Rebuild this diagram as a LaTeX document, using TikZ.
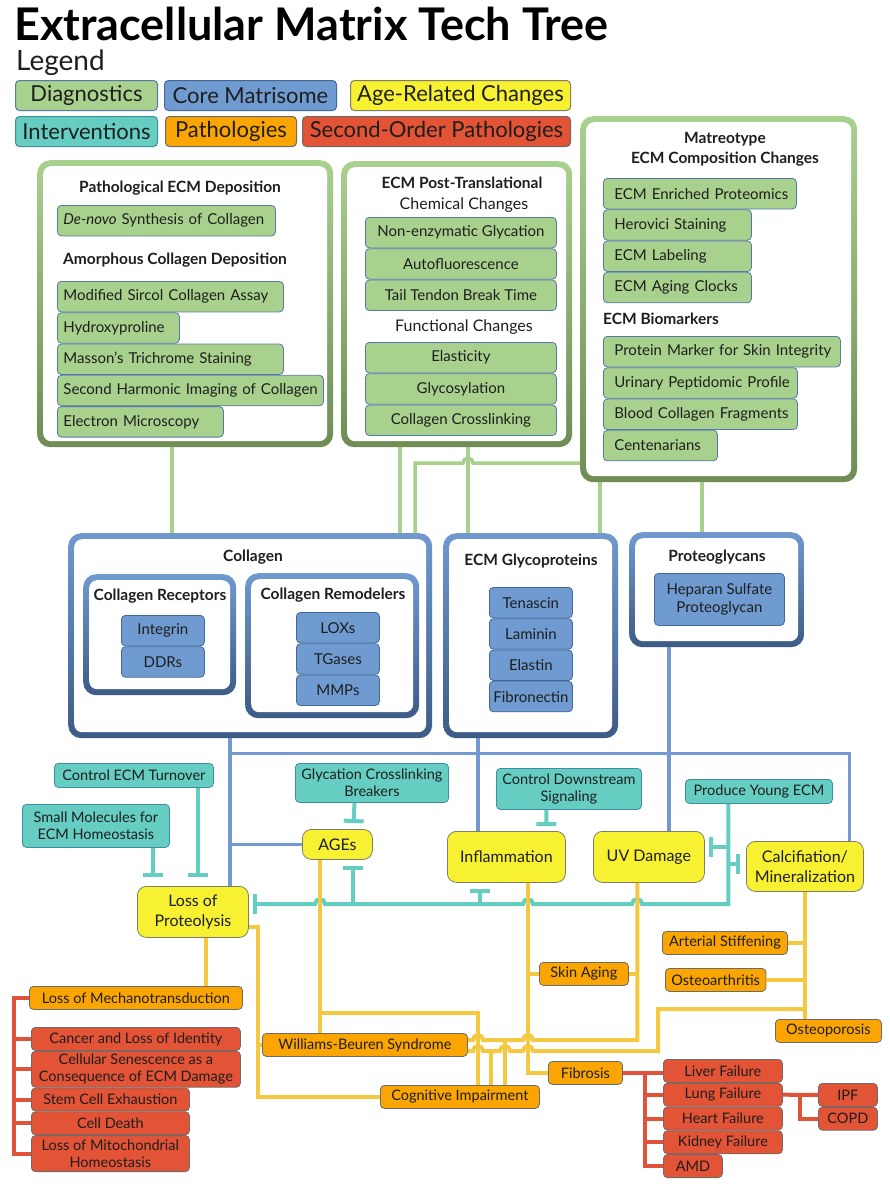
\documentclass[tikz,border=0pt]{standalone}
\usepackage{fontspec}
\setmainfont{Lato}
\usetikzlibrary{arrows.meta, positioning, calc}

\definecolor{diagfill}{HTML}{A9D18E}
\definecolor{diagline}{HTML}{5579A8}
\definecolor{corefill}{HTML}{6F9BD1}
\definecolor{coreline}{HTML}{44679A}
\definecolor{agefill}{HTML}{F7F132}
\definecolor{ageline}{HTML}{7E7E66}
\definecolor{intfill}{HTML}{66CDC3}
\definecolor{intline}{HTML}{3F8DA3}
\definecolor{patfill}{HTML}{FBA503}
\definecolor{patline}{HTML}{6B6B6B}
\definecolor{secfill}{HTML}{E35336}
\definecolor{grntop}{HTML}{A9D18E}
\definecolor{grnbot}{HTML}{6F8C55}
\definecolor{blutop}{HTML}{7099D0}
\definecolor{blubot}{HTML}{3C5C86}
\definecolor{lgreen}{HTML}{A9D18E}
\definecolor{lblue}{HTML}{7399D0}
\definecolor{lteal}{HTML}{66CDC3}
\definecolor{lyellow}{HTML}{F5C842}
\definecolor{lred}{HTML}{E0533A}
\definecolor{ink}{HTML}{1E1E1E}

\newcommand{\boxfont}{\fontsize{15}{18}\selectfont}
\newcommand{\smallfont}{\fontsize{14.5}{17}\selectfont}
\newcommand{\headfont}{\fontsize{15.5}{20}\selectfont\bfseries}

\tikzset{
node distance=0pt,
text=ink,
tag/.style={rectangle, rounded corners=4pt, line width=0.8pt, inner xsep=6pt, inner ysep=0pt, align=center},
lw/.style={text width=#1, align=left, execute at begin node=\hbox\bgroup, execute at end node=\egroup},
diag/.style={tag, draw=diagline, fill=diagfill, minimum height=30.5pt, font=\boxfont},
diagm/.style={diag, inner xsep=11pt},
core/.style={tag, inner xsep=3pt, draw=coreline, fill=corefill, minimum height=30.5pt, font=\boxfont},
interv/.style={tag, draw=intline, fill=intfill, minimum height=24pt, font=\smallfont},
agechg/.style={tag, rounded corners=9pt, draw=ageline, fill=agefill, minimum height=30pt, font=\fontsize{16}{20}\selectfont},
patho/.style={tag, draw=patline, fill=patfill, minimum height=23pt, font=\smallfont},
second/.style={tag, draw=patline, fill=secfill, minimum height=23pt, font=\smallfont},
legend/.style={tag, line width=1pt, minimum height=30pt, font=\fontsize{22}{24}\selectfont},
head/.style={font=\headfont, align=center, inner sep=0pt},
subhead/.style={font=\fontsize{16}{19}\selectfont, inner sep=0pt},
group/.style 2 args={rectangle, rounded corners=13pt, inner sep=0pt, top color=#1, bottom color=#2,
    path picture={\fill[white, rounded corners=8pt]
        ([shift={(6pt,6pt)}]path picture bounding box.south west) rectangle
        ([shift={(-6pt,-6pt)}]path picture bounding box.north east);}},
diaggroup/.style={group={grntop}{grnbot}},
coregroup/.style={group={blutop}{blubot}},
wire/.style={line width=3.5pt},
gwire/.style={wire, draw=lgreen},
bwire/.style={wire, draw=lblue},
twire/.style={wire, line width=4pt, draw=lteal},
ywire/.style={wire, line width=4pt, draw=lyellow},
rwire/.style={wire, line width=4pt, draw=lred},
inhibit/.style={-{Bar[width=20pt]}, shorten >=#1},
}

\begin{document}
\begin{tikzpicture}[x=1pt, y=-1pt]
\fill[white] (0,0) rectangle (890,1200);
\useasboundingbox (0,0) rectangle (890,1200);

% title and legend
\node[anchor=base west, inner sep=0pt, text=black, font=\fontsize{45}{50}\selectfont\bfseries] (title) at (14,40) {Extracellular Matrix Tech Tree};
\node[anchor=base west, inner sep=0pt, font=\fontsize{28}{30}\selectfont] (legendlbl) at (16,70) {Legend};
\node[legend, draw=diagline, fill=diagfill, minimum width=142, anchor=north west] (lgdiag) at (15,80) {Diagnostics};
\node[legend, draw=coreline, fill=corefill, minimum width=172, anchor=north west] (lgcore) at (164,80) {Core Matrisome};
\node[legend, draw=ageline, fill=agefill, minimum width=220, anchor=north west] (lgage) at (350,80) {Age-Related Changes};
\node[legend, draw=intline, fill=intfill, minimum width=142, anchor=north west] (lgint) at (15,116) {Interventions};
\node[legend, draw=patline, fill=patfill, minimum width=131, anchor=north west] (lgpat) at (165,116) {Pathologies};
\node[legend, draw=patline, fill=secfill, minimum width=268, anchor=north west] (lgsec) at (302,116) {Second-Order Pathologies};

% diagnostics
\node[diaggroup, minimum width=296, minimum height=287, anchor=north west] (depos) at (37,160) {};
\node[head] (deposhead) at (180,188) {Pathological ECM Deposition};
\node[diag, lw=206, anchor=north west] (denovo) at (57,205) {\textit{De-novo} Synthesis of Collagen};
\node[head] (amorhead) at (175,260) {Amorphous Collagen Deposition};
\node[diag, lw=214, anchor=north west] (sircol) at (57,281) {Modified Sircol Collagen Assay};
\node[diag, lw=110, anchor=north west] (hydroxy) at (sircol.south west) {Hydroxyproline};
\node[diag, lw=214, anchor=north west] (masson) at (hydroxy.south west) {Masson's Trichrome Staining};
\node[diag, lw=254, anchor=north west] (shg) at (masson.south west) {Second Harmonic Imaging of Collagen};
\node[diag, lw=154, anchor=north west] (elmic) at (shg.south west) {Electron Microscopy};

\node[diaggroup, minimum width=231, minimum height=286, anchor=north west] (posttr) at (341,161) {};
\node[head] (postthead) at (462,183) {ECM Post-Translational};
\node[subhead] (chemhead) at (464,205) {Chemical Changes};
\node[diag, minimum width=191, anchor=north west] (nonenz) at (365,217) {Non-enzymatic Glycation};
\node[diag, minimum width=191, below=of nonenz] (autofl) {Autofluorescence};
\node[diag, minimum width=191, below=of autofl] (tendon) {Tail Tendon Break Time};
\node[subhead] (funchead) at (464,327) {Functional Changes};
\node[diag, minimum width=191, anchor=north west] (elastic) at (365,342) {Elasticity};
\node[diag, minimum width=191, below=of elastic] (glycosyl) {Glycosylation};
\node[diag, minimum width=191, below=of glycosyl] (crosslink) {Collagen Crosslinking};

\node[diaggroup, minimum width=277, minimum height=366, anchor=north west] (matreo) at (580,116) {};
\node[head] (matreohead) at (725,149) {Matreotype\\ECM Composition Changes};
\node[diagm, lw=171, anchor=north west] (proteomics) at (603,178) {ECM Enriched Proteomics};
\node[diagm, lw=126, anchor=north west] (herovici) at (proteomics.south west) {Herovici Staining};
\node[diagm, lw=126, anchor=north west] (labeling) at (herovici.south west) {ECM Labeling};
\node[diagm, lw=126, anchor=north west] (clocks) at (labeling.south west) {ECM Aging Clocks};
\node[head, anchor=west] (biomhead) at (603,319) {ECM Biomarkers};
\node[diagm, lw=215, anchor=north west] (skinint) at (603,336) {Protein Marker for Skin Integrity};
\node[diagm, lw=172, anchor=north west] (urinary) at (skinint.south west) {Urinary Peptidomic Profile};
\node[diagm, lw=172, anchor=north west] (bloodfrag) at (urinary.south west) {Blood Collagen Fragments};
\node[diagm, lw=92, anchor=north west] (centen) at (bloodfrag.south west) {Centenarians};

% core matrisome
\node[coregroup, minimum width=364, minimum height=205, anchor=north west] (collagen) at (68,533) {};
\node[head] (collhead) at (253,557) {Collagen};
\node[coregroup, minimum width=153, minimum height=121, anchor=north west] (receptors) at (83,574) {};
\node[head] (recephead) at (160,596) {Collagen Receptors};
\node[core, minimum width=83, anchor=north west] (integrin) at (121,615) {Integrin};
\node[core, minimum width=83, below=of integrin] (ddrs) {DDRs};
\node[coregroup, minimum width=174, minimum height=145, anchor=north west] (remodel) at (245,573) {};
\node[head] (remodhead) at (333,595) {Collagen Remodelers};
\node[core, minimum width=83, anchor=north west] (loxs) at (296,612) {LOXs};
\node[core, minimum width=83, below=of loxs] (tgases) {TGases};
\node[core, minimum width=83, below=of tgases] (mmps) {MMPs};

\node[coregroup, minimum width=175, minimum height=205, anchor=north west] (glycop) at (443,533) {};
\node[head] (glyhead) at (531,561) {ECM Glycoproteins};
\node[core, minimum width=83, anchor=north west] (tenascin) at (489,587) {Tenascin};
\node[core, minimum width=83, below=of tenascin] (laminin) {Laminin};
\node[core, minimum width=83, below=of laminin] (elastin) {Elastin};
\node[core, minimum width=83, below=of elastin] (fibronectin) {Fibronectin};

\node[coregroup, minimum width=175, minimum height=115, anchor=north west] (proteog) at (629,532) {};
\node[head] (proteohead) at (717,557) {Proteoglycans};
\node[core, minimum width=130, minimum height=52, anchor=north west] (heparan) at (654,573) {Heparan Sulfate\\Proteoglycan};

% interventions
\node[interv, minimum width=159, anchor=north west] (ctrlturn) at (54,763) {Control ECM Turnover};
\node[interv, minimum width=147, minimum height=43, anchor=north west] (smallmol) at (22,804) {Small Molecules for\\ECM Homeostasis};
\node[interv, minimum width=151, minimum height=39, anchor=north west] (glybreak) at (295,763) {Glycation Crosslinking\\Breakers};
\node[interv, minimum width=145, minimum height=41, anchor=north west] (ctrldown) at (496,768) {Control Downstream\\Signaling};
\node[interv, minimum width=147, anchor=north west] (youngecm) at (685,779) {Produce Young ECM};

% age-related changes
\node[agechg, minimum width=111, minimum height=51, anchor=north west] (lossprot) at (137,886) {Loss of\\Proteolysis};
\node[agechg, minimum width=70, anchor=north west] (ages) at (302,829) {AGEs};
\node[agechg, minimum width=118, minimum height=51, anchor=north west] (inflam) at (447,831) {Inflammation};
\node[agechg, minimum width=111, minimum height=51, anchor=north west] (uvdmg) at (593,831) {UV Damage};
\node[agechg, minimum width=117, minimum height=50, anchor=north west] (calcif) at (746,841) {Calcifiation/\\Mineralization};

% pathologies
\node[patho, minimum width=213, anchor=north west] (mechano) at (29,986) {Loss of Mechanotransduction};
\node[patho, minimum width=205, anchor=north west] (williams) at (262,1033) {Williams-Beuren Syndrome};
\node[patho, minimum width=159, anchor=north west] (cognitive) at (380,1085) {Cognitive Impairment};
\node[patho, minimum width=89, anchor=north west] (skinaging) at (539,962) {Skin Aging};
\node[patho, minimum width=74, anchor=north west] (fibrosis) at (548,1061) {Fibrosis};
\node[patho, minimum width=125, anchor=north west] (arterial) at (662,931) {Arterial Stiffening};
\node[patho, minimum width=99, anchor=north west] (osteoarth) at (665,968) {Osteoarthritis};
\node[patho, minimum width=106, anchor=north west] (osteopor) at (775,1019) {Osteoporosis};

% second-order pathologies
\node[second, minimum width=209, anchor=north west] (cancer) at (31,1027) {Cancer and Loss of Identity};
\node[second, minimum width=209, minimum height=36, below=of cancer] (senesc) {Cellular Senescence as a\\Consequence of ECM Damage};
\node[second, minimum width=158, anchor=north west] (stemcell) at (senesc.south west) {Stem Cell Exhaustion};
\node[second, minimum width=158, below=of stemcell] (celldeath) {Cell Death};
\node[second, minimum width=158, minimum height=36, below=of celldeath] (mito) {Loss of Mitochondrial\\Homeostasis};
\node[second, minimum width=119, anchor=north west] (liver) at (663,1059) {Liver Failure};
\node[second, minimum width=119, below=of liver] (lung) {Lung Failure};
\node[second, minimum width=119, below=of lung] (heart) {Heart Failure};
\node[second, minimum width=119, below=of heart] (kidney) {Kidney Failure};
\node[second, minimum width=59, anchor=north west] (amd) at (kidney.south west) {AMD};
\node[second, minimum width=59, anchor=north west] (ipf) at (818,1083) {IPF};
\node[second, minimum width=59, below=of ipf] (copd) {COPD};

% diagnostics to matrisome
\draw[gwire] ([xshift=-13pt]depos.south) -- ([xshift=-13pt]depos.south |- collagen.north);
\draw[gwire] ([xshift=-56.5pt]posttr.south) -- ([xshift=-56.5pt]posttr.south |- collagen.north);
\draw[gwire] ([xshift=11.5pt]posttr.south) -- ([xshift=11.5pt]posttr.south |- glycop.north);
\draw[gwire] ([yshift=-164pt]matreo.west) -- (473,463) arc[start angle=0, end angle=-180, radius=5]
    -- ([xshift=165pt]collagen.north |- 0,463) -- ([xshift=165pt]collagen.north);
\draw[gwire] ([xshift=-118.5pt]matreo.south) -- ([xshift=-118.5pt]matreo.south |- glycop.north);
\draw[gwire] ([xshift=-16.5pt]matreo.south) -- ([xshift=-16.5pt]matreo.south |- proteog.north);

% matrisome to age-related changes
\draw[bwire] ([xshift=-20pt]collagen.south) -- ([xshift=-20pt]collagen.south |- lossprot.north);
\draw[bwire] ([xshift=-20pt,yshift=-15pt]collagen.south) -| ([xshift=44.5pt]calcif.north);
\draw[bwire] ([xshift=-20pt]collagen.south |- ages.west) -- (ages.west);
\draw[bwire] ([xshift=-52.5pt]glycop.south) -- ([xshift=-52.5pt]glycop.south |- inflam.north);
\draw[bwire] ([xshift=-47.5pt]proteog.south) -- ([xshift=-47.5pt]proteog.south |- uvdmg.north);

% interventions
\coordinate (tv) at ([xshift=-30.5pt]youngecm.south);
\draw[twire, inhibit=4pt] (tv) |- (642,904)
    arc[start angle=0, end angle=-180, radius=5] -- (533,904)
    arc[start angle=0, end angle=-180, radius=5] -- (325,904)
    arc[start angle=0, end angle=-180, radius=5] -- (lossprot.east |- 0,904);
\draw[twire, inhibit=4pt] (tv |- 0,847) -- (uvdmg.east |- 0,847);
\draw[twire, inhibit=6pt] (tv |- 0,864) -- (calcif.west |- 0,864);
\draw[twire, inhibit=6pt] ([xshift=-26pt]inflam.south |- 0,904) -- ([xshift=-26pt]inflam.south);
\draw[twire, inhibit=6pt] ([xshift=16pt]ages.south |- 0,904) -- ([xshift=16pt]ages.south);
\draw[twire, inhibit=6pt] ([xshift=-17.5pt]glybreak.south) -- ([xshift=16pt]ages.north);
\draw[twire, inhibit=5pt] ([xshift=-22.5pt]ctrldown.south) -- ([xshift=40pt]inflam.north);
\draw[twire, inhibit=9pt] ([xshift=57.5pt]smallmol.south) -- ([xshift=-39.5pt]lossprot.north);
\draw[twire, inhibit=9pt] ([xshift=64.5pt]ctrlturn.south) -- ([xshift=5.5pt]lossprot.north);

% age-related changes to pathologies
\draw[ywire] ([xshift=13.5pt]lossprot.south) -- ([xshift=13.5pt]lossprot.south |- mechano.north);
\draw[ywire] ([yshift=-15.5pt]lossprot.east) -- ++(9,0) |- (cognitive.west);
\draw[ywire] (257,0 |- williams.west) -- (williams.west);
\draw[ywire] ([xshift=-17pt]ages.south) -- ([xshift=-17pt]ages.south |- williams.north);
\draw[ywire] ([xshift=-17pt]ages.south |- 0,1013) -| ([xshift=18.5pt]cognitive.north);
\draw[ywire] ([xshift=22pt]inflam.south) |- (fibrosis.west);
\draw[ywire] ([xshift=22pt]inflam.south |- skinaging.west) -- (skinaging.west);
\draw[ywire] ([xshift=-11.5pt]uvdmg.south) |- (533,1040)
    arc[start angle=0, end angle=-180, radius=5] -- (483,1040)
    arc[start angle=0, end angle=-180, radius=5] -- (williams.east |- 0,1040);
\draw[ywire] (skinaging.east) -- ([xshift=-11.5pt]uvdmg.south |- skinaging.east);
\draw[ywire] (505,1040) -- (505,0 |- cognitive.north);
\draw[ywire] (calcif.south) -- (calcif.south |- osteopor.north);
\draw[ywire] (arterial.east) -- (calcif.south |- arterial.east);
\draw[ywire] (osteoarth.east) -- (calcif.south |- osteoarth.east);
\draw[ywire] (calcif.south |- 0,1009) -- (658,1009) -- (658,1051) -- (533,1051)
    arc[start angle=0, end angle=-180, radius=5] -- (510,1051)
    arc[start angle=0, end angle=-180, radius=5] -- (483,1051)
    arc[start angle=0, end angle=-180, radius=5] -- (williams.east |- 0,1051);
\draw[ywire] (491,1051) -- (491,0 |- cognitive.north);

% second-order pathologies
\coordinate (rb) at ([xshift=-15pt]mechano.west);
\draw[rwire] (mechano.west) -- (rb) |- (mito.west);
\foreach \n in {cancer, senesc, stemcell, celldeath}
    \draw[rwire] (rb |- \n.west) -- (\n.west);
\coordinate (fb) at ([xshift=22pt]fibrosis.east);
\draw[rwire] (fibrosis.east) -- (fibrosis.east -| liver.west);
\draw[rwire] (fb) |- (amd.west);
\foreach \n in {lung, heart, kidney}
    \draw[rwire] (fb |- \n.west) -- (\n.west);
\draw[rwire] (lung.east) -- (ipf.west);
\draw[rwire] ([xshift=17pt]lung.east) |- (copd.west);
\end{tikzpicture}
\end{document}
